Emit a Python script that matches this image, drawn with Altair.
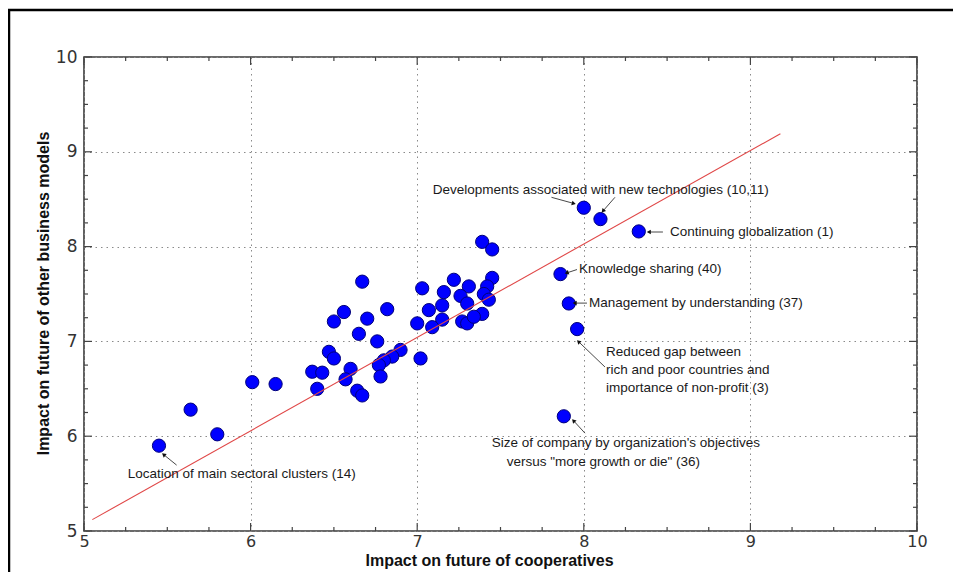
import math
import altair as alt
import pandas as pd

# ---------------- data ----------------
coop = [
    7.39, 7.45, 7.22, 7.45, 7.42, 7.31, 7.16, 7.26, 7.40, 7.43, 7.30, 7.03,
    7.15, 7.07, 7.15, 7.00, 7.09, 7.27, 7.30, 7.39, 7.34,
    6.67, 6.56, 6.50, 6.70, 6.82, 6.65, 6.76, 6.90, 6.85, 6.80, 6.77, 6.78,
    7.02, 6.47, 6.50, 6.60, 6.57, 6.37, 6.43, 6.40, 6.64, 6.67,
    6.15, 6.01, 5.64, 5.80, 5.45,
    8.00, 8.10, 8.33, 7.86, 7.91, 7.96, 7.88,
]
other = [
    8.05, 7.97, 7.65, 7.67, 7.58, 7.58, 7.52, 7.48, 7.50, 7.44, 7.40, 7.56,
    7.38, 7.33, 7.23, 7.19, 7.15, 7.21, 7.19, 7.29, 7.26,
    7.63, 7.31, 7.21, 7.24, 7.34, 7.08, 7.00, 6.91, 6.84, 6.80, 6.75, 6.63,
    6.82, 6.89, 6.82, 6.71, 6.60, 6.68, 6.67, 6.50, 6.48, 6.43,
    6.55, 6.57, 6.28, 6.02, 5.90,
    8.41, 8.29, 8.16, 7.71, 7.40, 7.13, 6.21,
]

fit_x = [5.05, 9.18]
fit_y = [5.12, 9.19]

ann_text = [
    "Developments associated with new technologies (10,11)",
    "Continuing globalization (1)",
    "Knowledge sharing (40)",
    "Management by understanding (37)",
    "Reduced gap between",
    "rich and poor countries and",
    "importance of non-profit (3)",
    "Size of company by organization's objectives",
    "versus \"more growth or die\" (36)",
    "Location of main sectoral clusters (14)",
]
ann_x = [7.093, 8.517, 7.971, 8.031, 8.133, 8.133, 8.133, 7.447, 7.537, 5.262]
ann_y = [8.598, 8.154, 7.763, 7.404, 6.888, 6.698, 6.508, 5.923, 5.729, 5.596]

arr_x1 = [7.806, 8.187, 8.475, 7.959, 8.019, 8.127, 8.007, 5.556]
arr_y1 = [8.520, 8.520, 8.154, 7.758, 7.404, 6.730, 6.032, 5.695]
arr_x2 = [7.940, 8.115, 8.390, 7.897, 7.945, 7.968, 7.938, 5.478]
arr_y2 = [8.455, 8.375, 8.154, 7.722, 7.404, 6.998, 6.164, 5.806]

tick_labels = [5, 6, 7, 8, 9, 10]

# ---------------- layout ----------------
W, H = 833, 474
PX_X = W / 5.0
PX_Y = H / 5.0
xs = alt.Scale(domain=[5, 10], nice=False, zero=False)
ys = alt.Scale(domain=[5, 10], nice=False, zero=False)

x_axis = alt.Axis(
    values=tick_labels, format="d", labelFont="DejaVu Sans", labelFontSize=16,
    labelColor="#333333", ticks=True, tickSize=0, labelPadding=2, domain=False,
    grid=True, gridDash=[1.5, 4], gridColor="#8a8a8a", gridWidth=1,
    labelFlush=False, labelOverlap=False,
    title="Impact on future of cooperatives", titleFont="Liberation Sans",
    titleFontWeight="bold", titleFontSize=16, titleColor="#111111",
    titleX=405, titleY=34, titleBaseline="alphabetic", titleAlign="center",
)
y_axis = alt.Axis(
    values=tick_labels, format="d", labelFont="DejaVu Sans", labelFontSize=17,
    labelColor="#333333", ticks=True, tickSize=0, labelPadding=7, domain=False,
    grid=True, gridDash=[1.5, 4], gridColor="#8a8a8a", gridWidth=1,
    labelFlush=False, labelOverlap=False,
    title="Impact on future of other business models", titleFont="Liberation Sans",
    titleFontWeight="bold", titleFontSize=16, titleColor="#111111",
    titleX=-41, titleY=236, titleAngle=270, titleBaseline="middle", titleAlign="center",
)


def X(f):
    return alt.X(f, scale=xs, axis=x_axis)


def Y(f):
    return alt.Y(f, scale=ys, axis=y_axis)


pts = pd.DataFrame({"coop": coop, "other": other})

points = alt.Chart(pts).mark_point(
    filled=True, shape="circle", size=175, color="#0000ff",
    stroke="#00007a", strokeWidth=1, opacity=1,
).encode(x=X("coop:Q"), y=Y("other:Q"))

fit = alt.Chart(pd.DataFrame({"x": fit_x, "y": fit_y})).mark_line(
    color="#e04848", strokeWidth=1.1
).encode(x=X("x:Q"), y=Y("y:Q"))

# arrows
angles = []
for a, b, c, d in zip(arr_x1, arr_y1, arr_x2, arr_y2):
    dxp = (c - a) * PX_X
    dyp = -(d - b) * PX_Y
    angles.append(math.degrees(math.atan2(dxp, -dyp)) % 360)
arr = pd.DataFrame({"x1": arr_x1, "y1": arr_y1, "x2": arr_x2, "y2": arr_y2, "ang": angles})

shafts = alt.Chart(arr).mark_rule(color="#333333", strokeWidth=0.9).encode(
    x=X("x1:Q"), y=Y("y1:Q"), x2="x2:Q", y2="y2:Q",
)
heads = alt.Chart(arr).mark_point(
    shape="triangle-up", filled=True, size=22, color="#111111", opacity=1
).encode(
    x=X("x2:Q"), y=Y("y2:Q"), angle=alt.Angle("ang:Q", scale=None),
)

labels = alt.Chart(pd.DataFrame({"t": ann_text, "x": ann_x, "y": ann_y})).mark_text(
    align="left", baseline="middle", font="Liberation Sans", fontSize=13.5, color="#1a1a1a"
).encode(x=X("x:Q"), y=Y("y:Q"), text="t:N")

# inward ticks on all four sides
major = [float(v) for v in tick_labels]
minor = [5 + 0.25 * i for i in range(1, 20) if i % 4 != 0]


def tick_layers(vals, ln):
    df = pd.DataFrame({"v": vals})
    out = []
    out.append(alt.Chart(df).mark_rule(color="#444444", strokeWidth=1.2).encode(
        x=X("v:Q"), y=alt.value(H), y2=alt.value(H - ln)))
    out.append(alt.Chart(df).mark_rule(color="#444444", strokeWidth=1.2).encode(
        x=X("v:Q"), y=alt.value(0), y2=alt.value(ln)))
    out.append(alt.Chart(df).mark_rule(color="#444444", strokeWidth=1.2).encode(
        y=Y("v:Q"), x=alt.value(0), x2=alt.value(ln)))
    out.append(alt.Chart(df).mark_rule(color="#444444", strokeWidth=1.2).encode(
        y=Y("v:Q"), x=alt.value(W), x2=alt.value(W - ln)))
    return out


ticks = tick_layers(major, 8) + tick_layers(minor, 4)

# outer black frame (top and left edges of the figure)
frame_top = alt.Chart(pd.DataFrame({"a": [0]})).mark_rule(color="#000000", strokeWidth=2.5).encode(
    x=alt.value(-76), x2=alt.value(869), y=alt.value(-47)
)
frame_left = alt.Chart(pd.DataFrame({"a": [0]})).mark_rule(color="#000000", strokeWidth=2.5).encode(
    x=alt.value(-75), y=alt.value(-47), y2=alt.value(520)
)

chart = alt.layer(
    points, fit, *ticks, shafts, heads, labels, frame_top, frame_left
).properties(
    width=W, height=H,
    autosize=alt.AutoSizeParams(type="none"),
    padding={"left": 76, "top": 49, "right": 36, "bottom": 41},
    background="white",
).configure_view(
    stroke="#3a3a3a", strokeWidth=1.6
)

chart.save("out.html", embed_options={"renderer": "svg", "actions": False})
